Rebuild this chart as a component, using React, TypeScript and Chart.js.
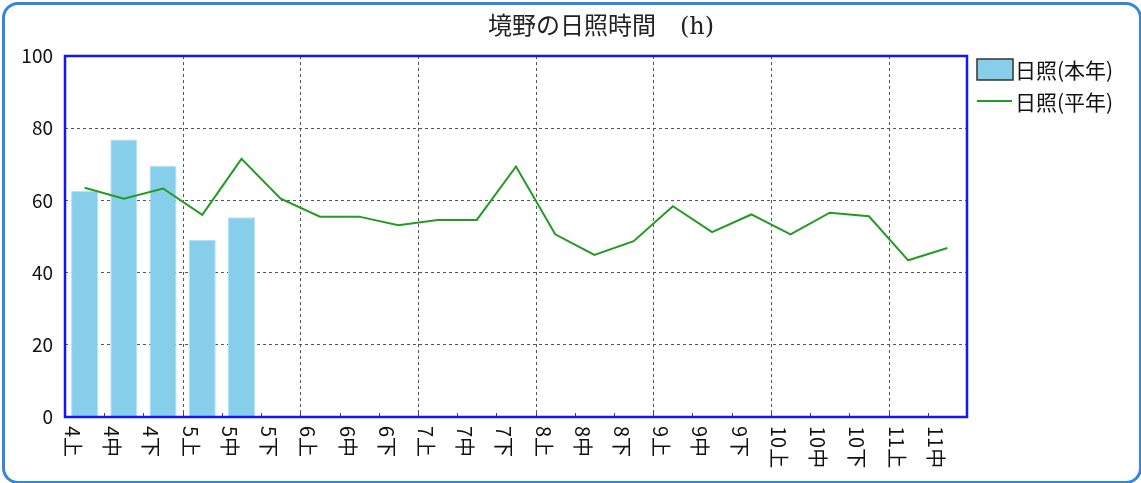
import React, { useEffect, useRef } from "react";
import { Chart, registerables } from "chart.js";

Chart.register(...registerables);

const TITLE = "境野の日照時間　(h)";
const CATEGORIES = [
  "4上", "4中", "4下", "5上", "5中", "5下", "6上", "6中", "6下",
  "7上", "7中", "7下", "8上", "8中", "8下", "9上", "9中", "9下",
  "10上", "10中", "10下", "11上", "11中",
];
const THIS_YEAR_LABEL = "日照(本年)";
const NORMAL_LABEL = "日照(平年)";
const THIS_YEAR = [62.6, 76.9, 69.5, 49.0, 55.3, null, null, null, null, null, null, null, null, null, null, null, null, null, null, null, null, null, null];
const NORMAL = [63.5, 60.5, 63.3, 56.0, 71.5, 60.5, 55.5, 55.5, 53.1, 54.6, 54.6, 69.4, 50.6, 44.9, 48.7, 58.4, 51.2, 56.1, 50.6, 56.6, 55.6, 43.4, 46.8];
const Y_MIN = 0;
const Y_MAX = 100;
const Y_STEP = 20;
const GRID_EVERY = 3;

const BAR_COLOR = "#87CEEB";
const LINE_COLOR = "#239B23";
const GRID_COLOR = "#555555";
const FONT = "'Noto Sans CJK JP', 'DejaVu Sans', sans-serif";

const customDraw = {
  id: "customDraw",
  beforeDatasetsDraw(chart: any) {
    const { ctx, chartArea } = chart;
    const x = chart.scales.x;
    const n = CATEGORIES.length;
    const half = (x.getPixelForValue(1) - x.getPixelForValue(0)) / 2;
    ctx.save();
    ctx.strokeStyle = GRID_COLOR;
    ctx.lineWidth = 1;
    ctx.setLineDash([3, 3]);
    for (let k = GRID_EVERY; k < n; k += GRID_EVERY) {
      const px = Math.round(x.getPixelForValue(k) - half) + 0.5;
      ctx.beginPath();
      ctx.moveTo(px, chartArea.top);
      ctx.lineTo(px, chartArea.bottom);
      ctx.stroke();
    }
    ctx.setLineDash([]);
    ctx.strokeStyle = "#444";
    for (let k = 1; k < n; k++) {
      const px = Math.round(x.getPixelForValue(k) - half) + 0.5;
      ctx.beginPath();
      ctx.moveTo(px, chartArea.bottom);
      ctx.lineTo(px, chartArea.bottom - 4);
      ctx.stroke();
    }
    ctx.restore();
  },
  afterDatasetsDraw(chart: any) {
    const { ctx, chartArea } = chart;
    const x = chart.scales.x;
    ctx.save();
    ctx.strokeStyle = "#1515F5";
    ctx.lineWidth = 2.5;
    ctx.strokeRect(chartArea.left, chartArea.top, chartArea.right - chartArea.left, chartArea.bottom - chartArea.top);

    ctx.fillStyle = "#111";
    ctx.font = `20px ${FONT}`;
    CATEGORIES.forEach((lab, i) => {
      const cx = x.getPixelForValue(i) - 12;
      ctx.save();
      ctx.translate(cx, chartArea.bottom + 9);
      ctx.rotate(Math.PI / 2);
      ctx.textAlign = "left";
      ctx.textBaseline = "middle";
      ctx.fillText(lab, 0, 0);
      ctx.restore();
    });

    ctx.font = `24px 'DejaVu Serif', 'Noto Sans CJK JP', serif`;
    ctx.fillStyle = "#222";
    ctx.textAlign = "center";
    ctx.textBaseline = "middle";
    ctx.fillText(TITLE, 601, 28);

    const lx = 977;
    ctx.fillStyle = BAR_COLOR;
    ctx.fillRect(lx, 59, 36, 21);
    ctx.strokeStyle = "#333";
    ctx.lineWidth = 1.5;
    ctx.strokeRect(lx, 59, 36, 21);
    ctx.strokeStyle = LINE_COLOR;
    ctx.lineWidth = 2;
    ctx.beginPath();
    ctx.moveTo(lx, 101);
    ctx.lineTo(lx + 35, 101);
    ctx.stroke();
    ctx.fillStyle = "#111";
    ctx.font = `21px ${FONT}`;
    ctx.textAlign = "left";
    ctx.textBaseline = "middle";
    ctx.fillText(chart.data.datasets[0].label, 1015, 70);
    ctx.fillText(chart.data.datasets[1].label, 1015, 102);
    ctx.restore();
  },
};

export default function App() {
  const ref = useRef<HTMLCanvasElement>(null);
  useEffect(() => {
    if (!ref.current) return;
    const chart = new Chart(ref.current, {
      type: "bar",
      data: {
        labels: CATEGORIES,
        datasets: [
          {
            type: "bar",
            label: THIS_YEAR_LABEL,
            data: THIS_YEAR as any,
            backgroundColor: BAR_COLOR,
            borderColor: "#B4E2F4",
            borderWidth: 1,
            barPercentage: 0.69,
            categoryPercentage: 1,
            order: 2,
          },
          {
            type: "line",
            label: NORMAL_LABEL,
            data: NORMAL,
            borderColor: LINE_COLOR,
            borderWidth: 2,
            pointRadius: 0,
            tension: 0,
            fill: false,
            order: 1,
          },
        ],
      },
      options: {
        animation: false,
        responsive: false,
        devicePixelRatio: 1,
        layout: { padding: { left: 0, top: 56, right: 174, bottom: 0 } },
        plugins: { legend: { display: false }, title: { display: false }, tooltip: { enabled: false } },
        scales: {
          x: {
            offset: true,
            grid: { display: false },
            border: { display: false },
            ticks: { display: false },
            afterFit: (s: any) => { s.height = 66; },
          } as any,
          y: {
            min: Y_MIN,
            max: Y_MAX,
            ticks: {
              stepSize: Y_STEP,
              padding: 12,
              color: "#111",
              font: { family: FONT, size: 19 },
            },
            grid: {
              drawTicks: false,
              color: (c: any) => (c.tick && (c.tick.value === Y_MIN || c.tick.value === Y_MAX) ? "rgba(0,0,0,0)" : GRID_COLOR),
              lineWidth: 1,
            },
            border: { display: false, dash: [3, 3] },
            afterFit: (s: any) => { s.width = 65; },
          } as any,
        },
      },
      plugins: [customDraw],
    });
    return () => chart.destroy();
  }, []);

  return (
    <div style={{ position: "fixed", left: 0, top: 0, width: 1141, height: 483, overflow: "hidden", background: "#fff" }}>
      <canvas ref={ref} width={1141} height={483} style={{ position: "absolute", left: 0, top: 0, width: 1141, height: 483 }} />
      <div
        style={{
          position: "absolute",
          left: 2,
          top: 2,
          width: 1140,
          height: 482,
          border: "3px solid #3584DE",
          borderRadius: 16,
          boxSizing: "border-box",
          pointerEvents: "none",
        }}
      />
    </div>
  );
}
